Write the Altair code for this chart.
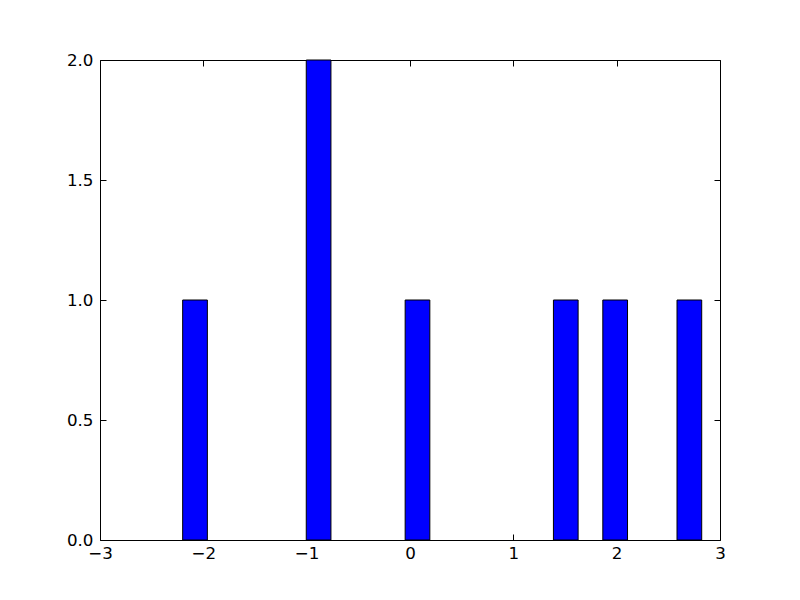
import altair as alt
import pandas as pd

bin_start = [-2.200, -1.004, -0.047, 1.388, 1.866, 2.584]
bin_end = [-1.961, -0.765, 0.192, 1.627, 2.105, 2.823]
counts = [1, 2, 1, 1, 1, 1]
x_ticks = [-3, -2, -1, 0, 1, 2, 3]
y_ticks = [0.0, 0.5, 1.0, 1.5, 2.0]

df = pd.DataFrame({"start": bin_start, "end": bin_end, "count": counts,
                   "base": [0] * len(counts)})

FONT = "DejaVu Sans"
FS = 16.7
xscale = alt.Scale(domain=[-3, 3], nice=False, zero=False, padding=0)
yscale = alt.Scale(domain=[0, 2], nice=False, padding=0)

def xaxis(**kw):
    base = dict(values=x_ticks, grid=False, domain=False, title=None,
                labelFont=FONT, labelFontSize=FS, labelColor="black",
                tickColor="black", format="d", labelFlush=False,
                labelOverlap=False)
    base.update(kw)
    return alt.Axis(**base)

def yaxis(**kw):
    base = dict(values=y_ticks, grid=False, domain=False, title=None,
                labelFont=FONT, labelFontSize=FS, labelColor="black",
                tickColor="black", format=".1f", labelFlush=False,
                labelOverlap=False)
    base.update(kw)
    return alt.Axis(**base)

def layer(xax, yax, **mark):
    return alt.Chart(df).mark_bar(**mark).encode(
        x=alt.X("start:Q", scale=xscale, axis=xax),
        x2="end:Q",
        y=alt.Y("count:Q", scale=yscale, axis=yax),
        y2="base:Q",
    )

bars = layer(xaxis(orient="bottom", ticks=False, tickSize=0, labelPadding=5),
             yaxis(orient="left", ticks=False, tickSize=0, labelPadding=7),
             color="#0000ff", stroke="black", strokeWidth=1)
ticks_a = layer(xaxis(orient="bottom", offset=-6, tickSize=6, labels=False),
                yaxis(orient="left", offset=-6, tickSize=6, labels=False),
                opacity=0)
ticks_b = layer(xaxis(orient="top", offset=-6, tickSize=6, labels=False),
                yaxis(orient="right", offset=-6, tickSize=6, labels=False),
                opacity=0)

chart = alt.layer(bars, ticks_a, ticks_b).resolve_axis(
    x="independent", y="independent"
).properties(
    width=620, height=480,
    autosize=alt.AutoSizeParams(type="none"),
    padding={"left": 92, "top": 52, "right": 72, "bottom": 52},
    background="white",
).configure_view(stroke="black", strokeWidth=1)

chart.save("out.html", embed_options={"renderer": "svg", "actions": False})
